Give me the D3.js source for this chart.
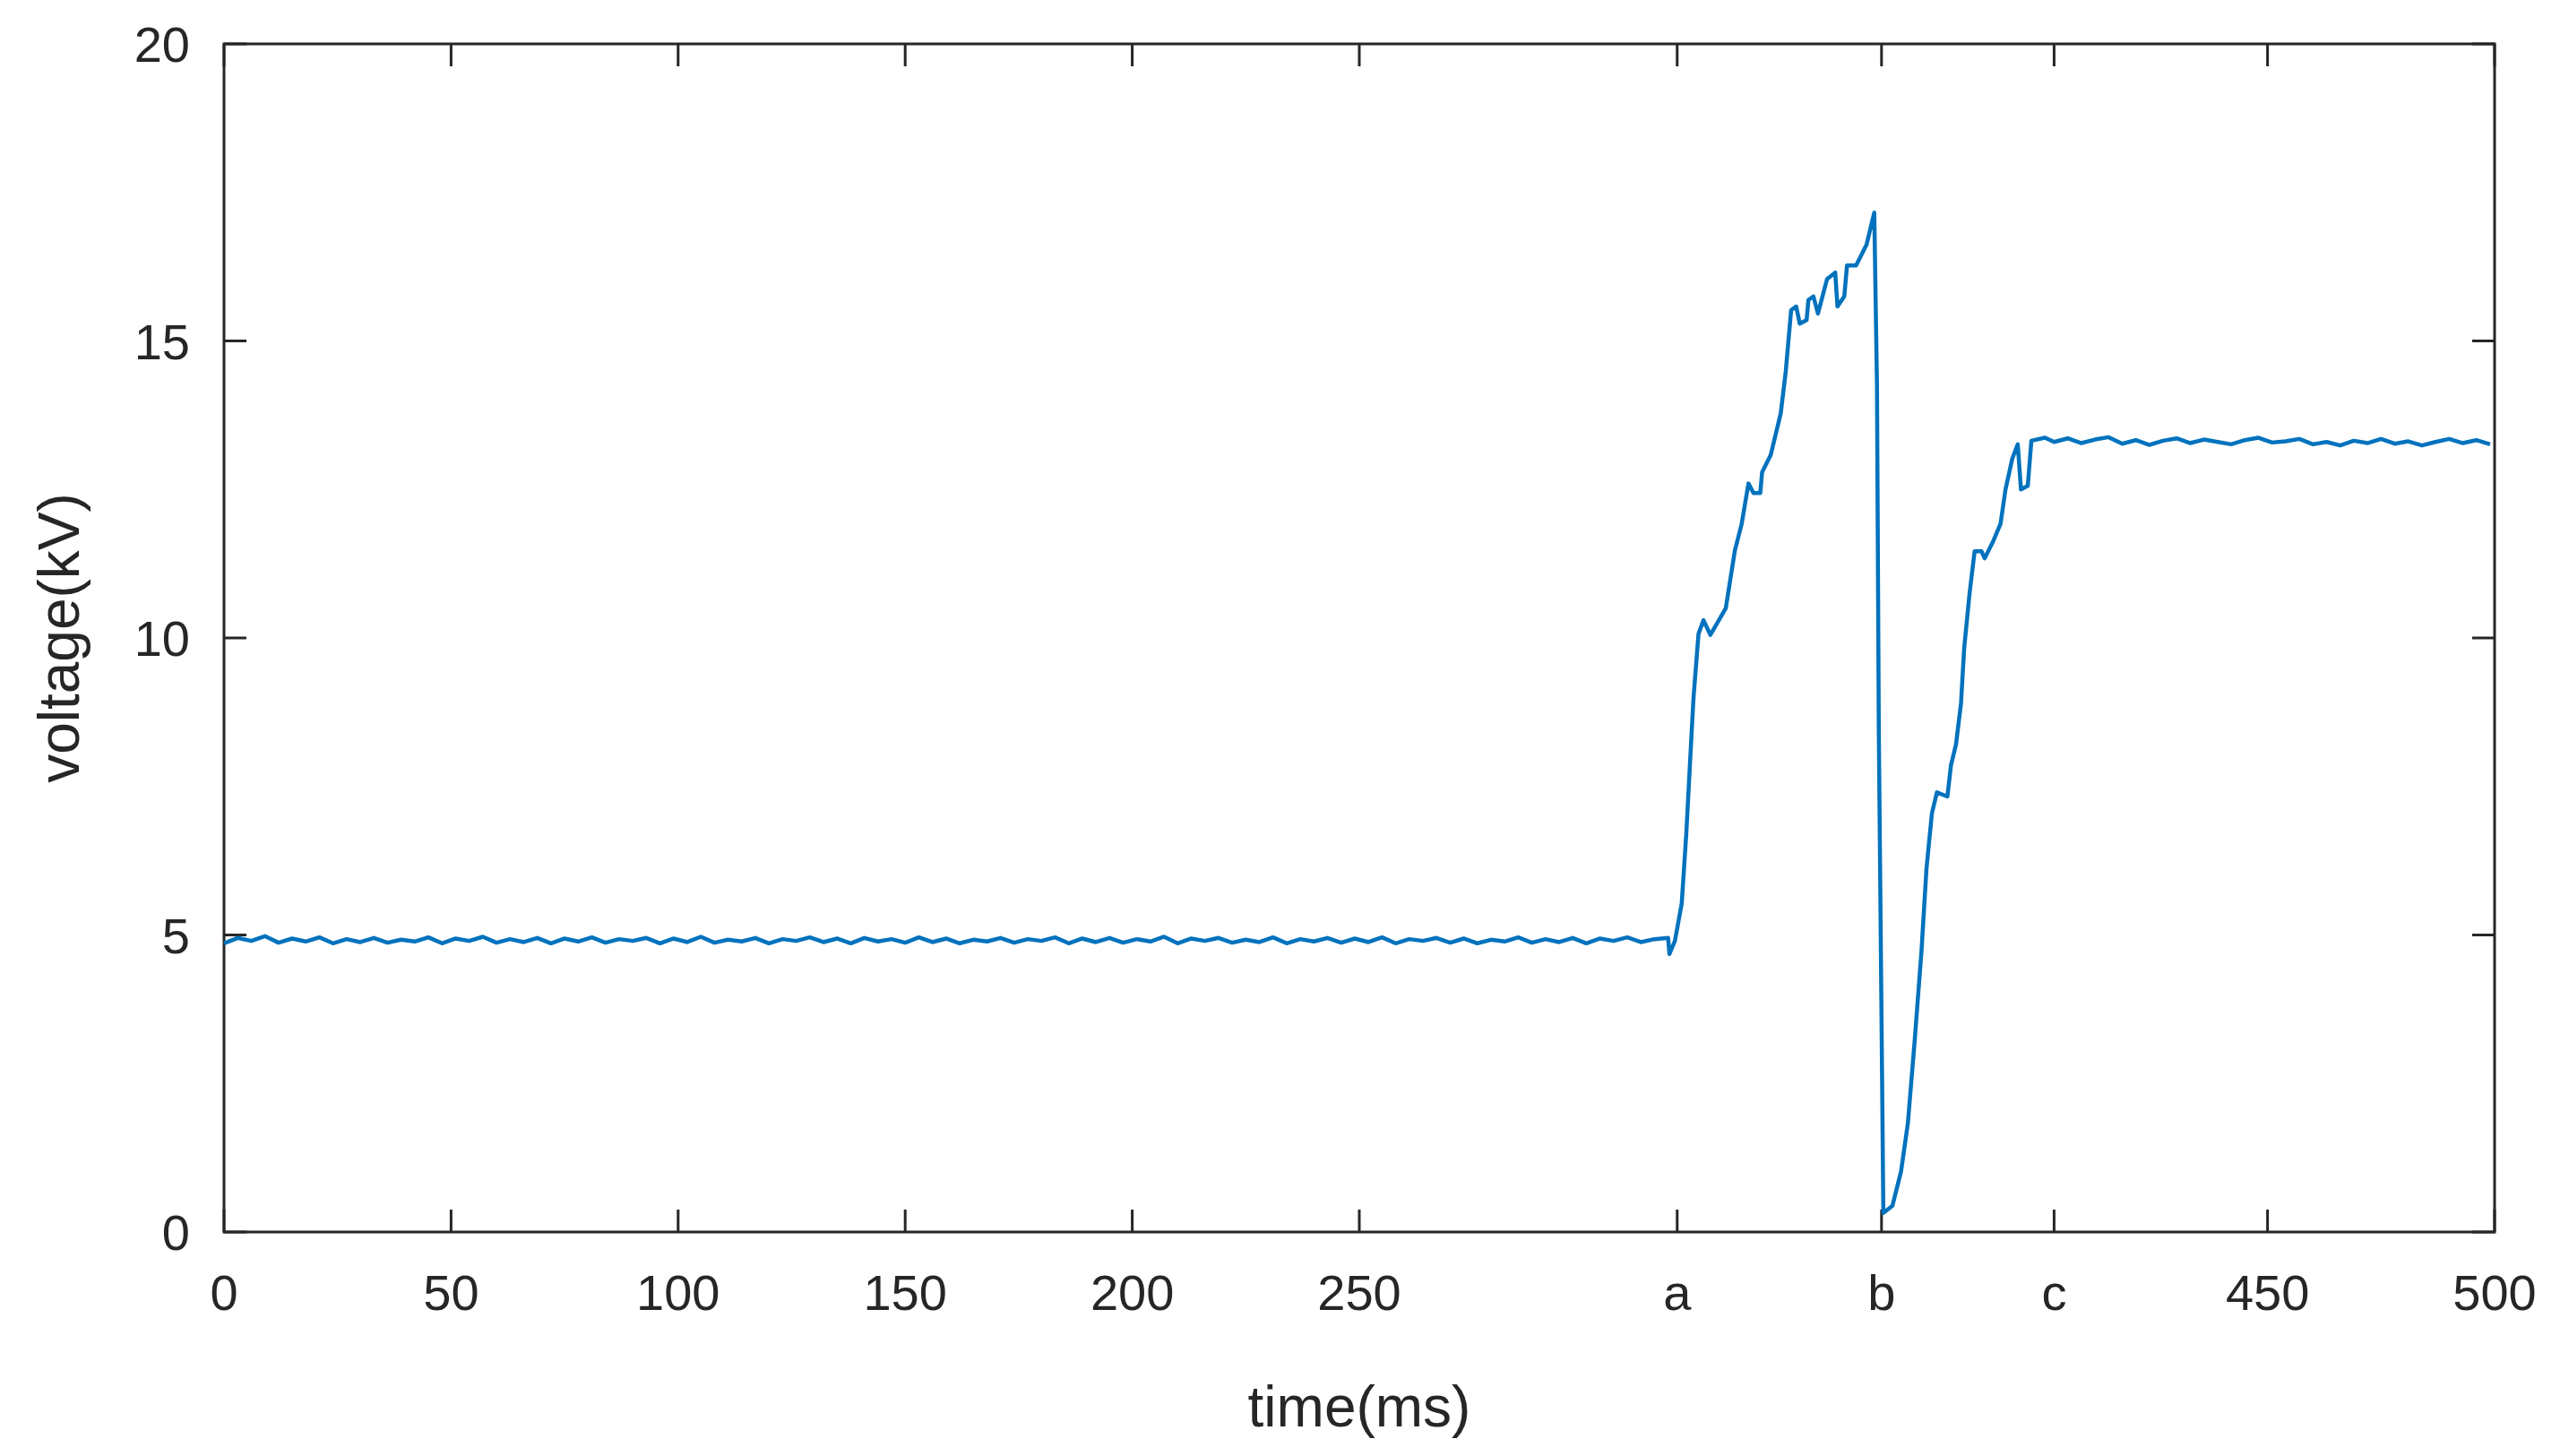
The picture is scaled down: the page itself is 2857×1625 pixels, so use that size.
<!DOCTYPE html>
<html><head><meta charset="utf-8">
<script src="https://cdn.jsdelivr.net/npm/d3@7"></script>
<style>body{margin:0;background:#fff}svg{display:block}text{font-family:"Liberation Sans",Arial,sans-serif;fill:#262626}</style>
</head><body><svg id="c" width="2857" height="1625"></svg>
<script>
// baseline segment: times 0..318 every 3 ms
const baseT0 = 0, baseStep = 3;
const baseV = [4.86,4.95,4.90,4.98,4.87,4.94,4.89,4.96,4.86,4.93,4.88,4.95,4.87,4.92,4.89,4.96,4.86,4.94,4.90,4.97,4.87,4.93,4.88,4.95,4.86,4.94,4.89,4.96,4.87,4.93,4.90,4.95,4.86,4.94,4.88,4.97,4.87,4.92,4.89,4.95,4.86,4.93,4.90,4.96,4.88,4.94,4.86,4.95,4.89,4.93,4.87,4.96,4.88,4.94,4.86,4.92,4.89,4.95,4.87,4.93,4.90,4.96,4.86,4.94,4.88,4.95,4.87,4.93,4.89,4.97,4.86,4.94,4.90,4.95,4.87,4.92,4.88,4.96,4.86,4.93,4.89,4.95,4.87,4.94,4.88,4.96,4.86,4.93,4.90,4.95,4.87,4.94,4.86,4.92,4.89,4.96,4.87,4.93,4.88,4.95,4.86,4.94,4.90,4.96,4.88,4.93,4.95];
// transient segment
const transT = [318.3,319.5,321,322,322.8,323.6,324.7,325.8,327.3,330.7,332.7,334.2,335.7,336.8,338.3,338.7,340.6,342.8,343.9,345.1,346.2,347,348.5,348.9,350,351,353,354.8,355.3,356.8,357.4,359.4,361.7,363.4,364,364.4,365.4,367.4,369.3,370.8,372.3,373.8,374.9,376.1,377.2,379.5,380.3,381.4,382.5,383.2,384.4,385.5,387,387.7,389.6,391.2,392.3,393.8,395,395.7,397.2,398,401];
const transV = [4.68,4.9,5.53,6.7,7.86,9.0,10.07,10.3,10.05,10.5,11.47,11.92,12.6,12.44,12.44,12.79,13.08,13.78,14.48,15.52,15.58,15.29,15.35,15.69,15.75,15.46,16.04,16.15,15.58,15.75,16.27,16.27,16.62,17.16,14.24,8.45,0.32,0.44,1.02,1.83,3.22,4.73,6.12,7.05,7.4,7.33,7.86,8.21,8.9,9.83,10.76,11.46,11.46,11.34,11.63,11.92,12.5,13.02,13.26,12.5,12.56,13.32,13.37];
// final plateau: times 403..500 every 3 ms
const endT0 = 403, endStep = 3;
const endV = [13.30,13.36,13.28,13.34,13.38,13.27,13.33,13.25,13.32,13.36,13.28,13.34,13.30,13.26,13.33,13.37,13.29,13.31,13.35,13.26,13.30,13.24,13.32,13.28,13.35,13.27,13.31,13.24,13.30,13.35,13.28,13.33,13.26,13.30];
const xTickVals = [0,50,100,150,200,250,320,365,403,450,500];
const xTickLabels = ["0","50","100","150","200","250","a","b","c","450","500"];
const yTickVals = [0,5,10,15,20];

const pts = [];
baseV.forEach((v,i)=>{const t=baseT0+i*baseStep; if(t<318.3) pts.push([t,v]);});
transT.forEach((t,i)=>pts.push([t,transV[i]]));
endV.forEach((v,i)=>{const t=endT0+i*endStep; if(t<=500) pts.push([t,v]);});

const svg=d3.select("#c");
const L=250,R=2784,T=49,B=1375;
const x=d3.scaleLinear().domain([0,500]).range([L,R]);
const y=d3.scaleLinear().domain([0,20]).range([B,T]);
const tl=25, ax="#262626";
const g=svg.append("g");
// ticks
xTickVals.forEach(v=>{
  g.append("line").attr("x1",x(v)).attr("x2",x(v)).attr("y1",B).attr("y2",B-tl).attr("stroke",ax).attr("stroke-width",3);
  g.append("line").attr("x1",x(v)).attr("x2",x(v)).attr("y1",T).attr("y2",T+tl).attr("stroke",ax).attr("stroke-width",3);
});
yTickVals.forEach(v=>{
  g.append("line").attr("x1",L).attr("x2",L+tl).attr("y1",y(v)).attr("y2",y(v)).attr("stroke",ax).attr("stroke-width",3);
  g.append("line").attr("x1",R).attr("x2",R-tl).attr("y1",y(v)).attr("y2",y(v)).attr("stroke",ax).attr("stroke-width",3);
});
svg.append("path").datum(pts).attr("fill","none").attr("stroke","#0072BD").attr("stroke-width",4.5).attr("stroke-linejoin","round")
  .attr("d",d3.line().x(d=>x(d[0])).y(d=>y(d[1])));
g.append("rect").attr("x",L).attr("y",T).attr("width",R-L).attr("height",B-T).attr("fill","none").attr("stroke",ax).attr("stroke-width",3);
xTickVals.forEach((v,i)=>svg.append("text").attr("x",x(v)).attr("y",1462).attr("text-anchor","middle").attr("font-size",56).text(xTickLabels[i]));
yTickVals.forEach(v=>svg.append("text").attr("x",212).attr("y",y(v)+20).attr("text-anchor","end").attr("font-size",56).text(v));
svg.append("text").attr("x",(L+R)/2).attr("y",1592).attr("text-anchor","middle").attr("font-size",64).text("time(ms)");
svg.append("text").attr("transform",`translate(88,${(T+B)/2}) rotate(-90)`).attr("text-anchor","middle").attr("font-size",64).text("voltage(kV)");
</script></body></html>
